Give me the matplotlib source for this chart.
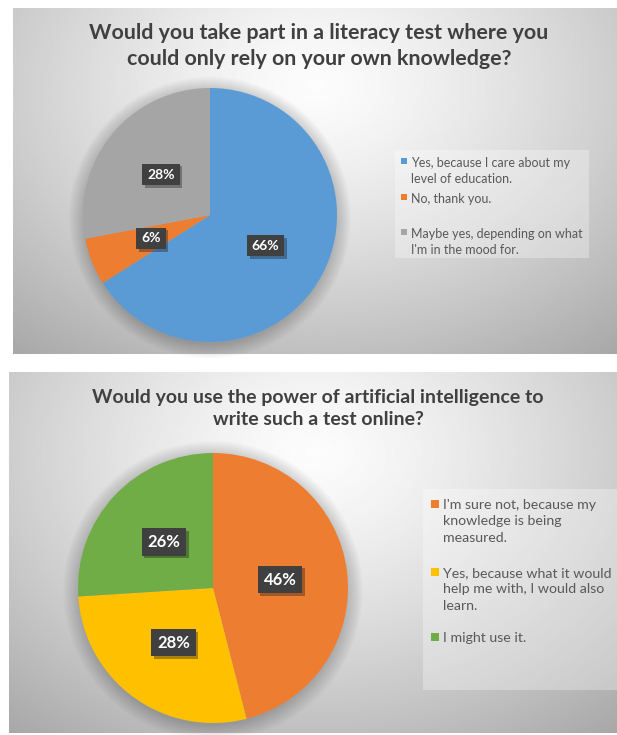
import numpy as np
import matplotlib.pyplot as plt
import matplotlib.patheffects as pe
from matplotlib.patches import Rectangle, Circle

W, H = 617, 735
plt.rcParams['font.family'] = ['Lato', 'DejaVu Sans']

# data: first question
q1_title = "Would you take part in a literacy test where you\ncould only rely on your own knowledge?"
q1_labels = ["Yes, because I care about my\nlevel of education.",
             "No, thank you.",
             "Maybe yes, depending on what\nI'm in the mood for."]
q1_values = [66, 6, 28]
q1_colors = ['#5B9BD5', '#ED7D31', '#A5A5A5']

# data: second question
q2_title = "Would you use the power of artificial intelligence to\nwrite such a test online?"
q2_labels = ["I'm sure not, because my\nknowledge is being\nmeasured.",
             "Yes, because what it would\nhelp me with, I would also\nlearn.",
             "I might use it."]
q2_values = [46, 28, 26]
q2_colors = ['#ED7D31', '#FFC000', '#70AD47']

fig = plt.figure(figsize=(W / 100, H / 100), dpi=100)
fig.patch.set_facecolor('white')


def frac(x, y, w, h):
    # pixel box (top-left origin) -> figure fraction
    return [x / W, 1 - (y + h) / H, w / W, h / H]


def background(x, y, w, h):
    ax = fig.add_axes(frac(x, y, w, h))
    gx, gy = np.meshgrid(np.linspace(-1, 1, 400), np.linspace(-1, 1, 400))
    d = np.sqrt((gx / 1.15) ** 2 + ((gy + 0.55) / 1.45) ** 2)
    shade = np.clip(0.99 - 0.22 * d ** 1.3, 0, 1)
    ax.imshow(shade, cmap='gray', vmin=0, vmax=1, aspect='auto',
              interpolation='bilinear')
    ax.axis('off')


def draw_pie(cx, cy, r, values, colors, fsize):
    pad = 1.15
    ax = fig.add_axes(frac(cx - r * pad, cy - r * pad, 2 * r * pad, 2 * r * pad))
    # soft shadow round the pie
    for i in range(10):
        ax.add_patch(Circle((0, -0.02), 1 + 0.012 * i, color='black',
                            alpha=0.018, lw=0, zorder=0))
    wedges, texts, autotexts = ax.pie(values, colors=colors, startangle=90,
                                      counterclock=False, autopct='%.0f%%',
                                      pctdistance=0.5,
                                      wedgeprops=dict(linewidth=0),
                                      textprops=dict(color='white', fontweight='bold',
                                                     fontsize=fsize))
    for t in autotexts:
        t.set_bbox(dict(boxstyle='square,pad=0.35', fc='#404040', ec='none'))
        t.get_bbox_patch().set_path_effects(
            [pe.SimplePatchShadow(offset=(2, -2), alpha=0.35), pe.Normal()])
    ax.set_xlim(-pad, pad)
    ax.set_ylim(-pad, pad)
    ax.set_aspect('equal')
    ax.axis('off')


def draw_legend(box, labels, colors, rows, tx, msize, fsize, lspace):
    x, y, w, h = box
    fig.patches.append(Rectangle((x / W, 1 - (y + h) / H), w / W, h / H,
                                 transform=fig.transFigure, fc='white',
                                 alpha=0.3, ec='none'))
    for lab, col, yc in zip(labels, colors, rows):
        fig.patches.append(Rectangle(((tx - msize - 4) / W, 1 - (yc + msize / 2) / H),
                                     msize / W, msize / H,
                                     transform=fig.transFigure, fc=col, ec='none'))
        fig.text(tx / W, 1 - (yc - fsize * 1.39 * 0.5 + 2) / H, lab, ha='left', va='top',
                 fontsize=fsize, color='#595959', linespacing=lspace)


# top panel
background(13, 8, 604, 346)
fig.text(319 / W, 1 - 46 / H, q1_title, ha='center', va='center', fontsize=15.4,
         fontweight='bold', color='#404040', linespacing=1.35)
draw_pie(210, 215, 127, q1_values, q1_colors, 10)
draw_legend((395, 150, 194, 108), q1_labels, q1_colors, [161, 197, 232],
            411, 6, 9, 1.4)

# bottom panel
background(9, 372, 608, 361)
fig.text(318 / W, 1 - 408.5 / H, q2_title, ha='center', va='center', fontsize=14,
         fontweight='bold', color='#404040', linespacing=1.42)
draw_pie(213, 588, 135, q2_values, q2_colors, 12)
draw_legend((423, 489, 194, 201), q2_labels, q2_colors, [504, 572, 637],
            443, 8, 10.2, 1.45)

fig.savefig('out.png', dpi=100)
